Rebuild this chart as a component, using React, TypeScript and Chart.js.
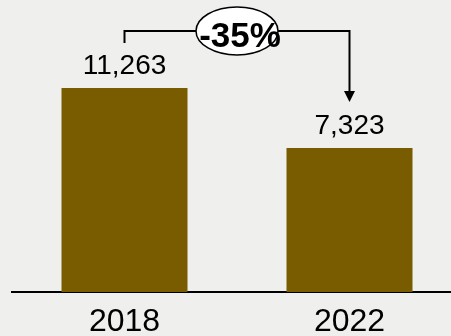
import React, { useEffect, useRef } from "react";
import { Chart, registerables } from "chart.js";

Chart.register(...registerables);

const categories: string[] = ["2018", "2022"];
const values: number[] = [11263, 7323];
const valueAxisMin = -2134;
const valueAxisMax = 17041;

const BAR_COLOR = "#7a5c00";
const FONT = "'Century Gothic', 'Liberation Sans', Arial, sans-serif";

const valueLabels = {
  id: "valueLabels",
  afterDatasetsDraw(chart: any) {
    const ctx = chart.ctx;
    const meta = chart.getDatasetMeta(0);
    ctx.save();
    ctx.fillStyle = "#000";
    ctx.font = `28px ${FONT}`;
    ctx.textAlign = "center";
    ctx.textBaseline = "alphabetic";
    meta.data.forEach((bar: any, i: number) => {
      ctx.fillText(values[i].toLocaleString("en-US"), bar.x, bar.y - 14);
    });
    ctx.restore();
  },
};

const changeBracket = {
  id: "changeBracket",
  afterDatasetsDraw(chart: any) {
    const ctx = chart.ctx;
    const meta = chart.getDatasetMeta(0);
    const b1 = meta.data[0];
    const b2 = meta.data[1];
    const lineY = b1.y - 57;
    const stubBottom = b1.y - 45;
    const tipY = b2.y - 46;
    ctx.save();
    ctx.strokeStyle = "#000";
    ctx.lineWidth = 2;
    ctx.beginPath();
    ctx.moveTo(b1.x, stubBottom);
    ctx.lineTo(b1.x, lineY);
    ctx.lineTo(b2.x, lineY);
    ctx.lineTo(b2.x, tipY - 10);
    ctx.stroke();
    ctx.fillStyle = "#000";
    ctx.beginPath();
    ctx.moveTo(b2.x - 5.5, tipY - 11);
    ctx.lineTo(b2.x + 5.5, tipY - 11);
    ctx.lineTo(b2.x, tipY);
    ctx.closePath();
    ctx.fill();

    const cx = (b1.x + b2.x) / 2;
    ctx.beginPath();
    ctx.ellipse(cx, lineY, 41, 24, 0, 0, Math.PI * 2);
    ctx.fillStyle = "#fff";
    ctx.fill();
    ctx.lineWidth = 1.5;
    ctx.stroke();

    const pct = Math.round(((values[1] - values[0]) / values[0]) * 100);
    ctx.fillStyle = "#000";
    ctx.font = `bold 35px ${FONT}`;
    ctx.textAlign = "center";
    ctx.textBaseline = "alphabetic";
    ctx.fillText(`${pct}%`, cx + 3, lineY + 16);
    ctx.restore();
  },
};

export default function App() {
  const ref = useRef<HTMLCanvasElement | null>(null);
  useEffect(() => {
    if (!ref.current) return;
    const chart = new Chart(ref.current, {
      type: "bar",
      data: {
        labels: categories,
        datasets: [
          {
            data: values,
            backgroundColor: BAR_COLOR,
            borderWidth: 0,
            base: valueAxisMin,
            barPercentage: 0.7,
            categoryPercentage: 0.8,
          } as any,
        ],
      },
      options: {
        responsive: false,
        animation: false,
        devicePixelRatio: 1,
        layout: { padding: { left: 12, right: 0, top: 0, bottom: 0 } },
        plugins: {
          legend: { display: false },
          tooltip: { enabled: false },
          title: { display: false },
        },
        scales: {
          x: {
            offset: true,
            grid: { display: false, drawTicks: false },
            border: { display: true, color: "#000", width: 2 },
            ticks: {
              color: "#000",
              font: { family: FONT, size: 32 },
              padding: 11,
            },
            afterFit: (scale: any) => {
              scale.height = 44;
            },
          },
          y: {
            display: false,
            min: valueAxisMin,
            max: valueAxisMax,
          },
        },
      },
      plugins: [valueLabels, changeBracket],
    });
    return () => chart.destroy();
  }, []);
  return (
    <div
      style={{
        position: "fixed",
        left: 0,
        top: 0,
        width: 451,
        height: 336,
        overflow: "hidden",
        background: "#efefed",
      }}
    >
      <canvas ref={ref} width={462} height={336} style={{ display: "block" }} />
    </div>
  );
}
